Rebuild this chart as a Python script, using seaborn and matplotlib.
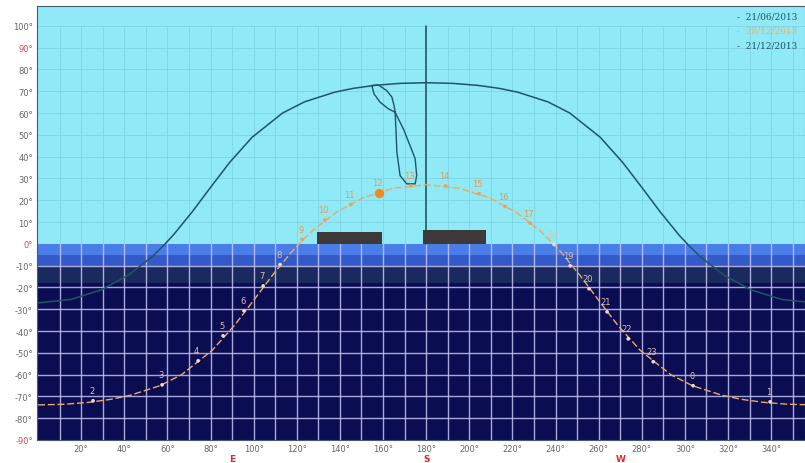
import numpy as np
import pandas as pd
import matplotlib
matplotlib.use("Agg")
import matplotlib.pyplot as plt
import matplotlib.transforms as mtransforms
import seaborn as sns

# ---------------- data ----------------
summer_az = [0, 15.2, 29.4, 42.0, 53.0, 58.0, 62.7, 71.5, 80.0, 88.9, 99.3, 113.4, 123.5, 137.3,
             146.0, 156.2, 167.7, 180, 192.3, 203.8, 214.0, 222.7, 236.5, 246.6, 260.7, 271.1,
             280.0, 288.5, 297.3, 302.0, 307.0, 318.0, 330.6, 344.8, 360]
summer_el = [-27.1, -25.5, -21.1, -14.3, -5.8, -1.0, 4.0, 14.7, 25.9, 37.4, 48.9, 60.0, 65.1, 69.5,
             71.3, 72.7, 73.6, 73.9, 73.6, 72.7, 71.3, 69.5, 65.1, 60.0, 48.9, 37.4,
             25.9, 14.7, 4.0, -1.0, -5.8, -14.3, -21.1, -25.5, -27.1]

winter_az = [0, 12.3, 23.8, 34.0, 42.7, 56.5, 66.6, 80.7, 91.1, 100.0, 108.5, 117.3, 122.0, 127.0,
             138.0, 150.6, 164.8, 180, 195.2, 209.4, 222.0, 233.0, 238.0, 242.7, 251.5, 260.0,
             268.9, 279.3, 293.4, 303.5, 317.3, 326.0, 336.2, 347.7, 360]
winter_el = [-73.9, -73.6, -72.7, -71.3, -69.5, -65.1, -60.0, -48.9, -37.4, -25.9, -14.7, -4.0, 1.0, 5.8,
             14.3, 21.1, 25.5, 27.1, 25.5, 21.1, 14.3, 5.8, 1.0, -4.0, -14.7, -25.9,
             -37.4, -48.9, -60.0, -65.1, -69.5, -71.3, -72.7, -73.6, -73.9]

hour_labels = ['1', '2', '3', '4', '5', '6', '7', '8', '9', '10', '11', '12',
               '13', '14', '15', '16', '17', '18', '19', '20', '21', '22', '23', '0']
hour_az = [339.5, 25.5, 57.5, 74.2, 85.8, 95.5, 104.4, 112.2, 122.5, 133.0, 145.0, 158.0,
           173.0, 189.0, 204.5, 216.6, 228.2, 239.3, 246.8, 255.5, 263.9, 273.7, 285.3, 303.8]
hour_el = [-72.5, -72.0, -64.7, -53.7, -42.2, -30.7, -19.3, -9.5, 2.0, 11.0, 18.0, 23.5,
           26.6, 26.6, 23.0, 17.2, 9.5, -0.3, -10.1, -20.6, -31.2, -43.6, -54.1, -65.1]

current_az = [158.0]
current_el = [23.5]

analemma_az = [154.8, 155.8, 158.6, 162.5, 165.6, 167.1, 169.4, 172.5, 174.9, 175.6, 174.9, 171.0,
               167.9, 166.4, 166.0, 165.6, 165.1, 164.1, 161.7, 157.8, 154.8]
analemma_el = [72.6, 68.8, 65.0, 61.9, 60.4, 57.3, 52.8, 45.1, 39.0, 31.3, 27.5, 27.5,
               31.3, 42.1, 52.0, 60.4, 63.4, 67.3, 70.3, 72.9, 72.6]

obstacle_az_start = [129.4, 178.5]
obstacle_az_end = [159.6, 207.7]
obstacle_height = [5.5, 6.4]

twilight_levels = [0, -5, -10, -18, -90]
twilight_colors = ['#4b7de9', '#3459c8', '#1a2a5e', '#0b0d52']

x_ticks = list(range(20, 341, 20))
y_ticks = list(range(-90, 101, 10))
y_red = [90, 0, -90]
cardinal_labels = ['E', 'S', 'W']
cardinal_az = [90, 180, 270]

legend_labels = ['21/06/2013', '28/12/2013', '21/12/2013']
legend_colors = ['#1f5566', '#f0b060', '#1f5566']

# ---------------- figure ----------------
sns.set_style("white")
plt.rcParams['font.family'] = ['DejaVu Sans']

fig = plt.figure(figsize=(8.05, 4.64), dpi=100)
ax = fig.add_axes([37 / 805, 23 / 464, 768 / 805, 434 / 464])
ax.set_xlim(-0.5, 355.7)
ax.set_ylim(-90, 109.1)

# sky / twilight backgrounds
ax.axhspan(0, 120, color='#8fe9f7', zorder=0, lw=0)
for i in range(len(twilight_colors)):
    ax.axhspan(twilight_levels[i + 1], twilight_levels[i], color=twilight_colors[i], zorder=0, lw=0)

# grids
for a in range(10, 360, 10):
    ax.plot([a, a], [0, 100], color='#82d8e8', lw=0.7, zorder=1)
    ax.plot([a, a], [-90, 0], color='#c4c4f2', lw=1.0, alpha=0.85, zorder=1)
for e in range(10, 101, 10):
    ax.axhline(e, color='#82d8e8', lw=0.7, zorder=1)
for e in range(-80, 0, 10):
    ax.axhline(e, color='#c4c4f2', lw=1.0, alpha=0.85, zorder=1)

# south line
ax.plot([180, 180], [0, 100], color='#1d4a58', lw=1.1, zorder=3)

# obstacles
for s, e_, h in zip(obstacle_az_start, obstacle_az_end, obstacle_height):
    ax.fill_between([s, e_], 0, h, color='#3e3a3a', zorder=3, lw=0)

# summer curve
sns.lineplot(x=summer_az, y=summer_el, sort=False, estimator=None, ax=ax,
             color='#1f5566', lw=1.1, zorder=4, legend=False)

# analemma
sns.lineplot(x=analemma_az, y=analemma_el, sort=False, estimator=None, ax=ax,
             color='#1f5566', lw=1.0, zorder=4, legend=False)

# winter curve
sns.lineplot(x=winter_az, y=winter_el, sort=False, estimator=None, ax=ax,
             color='#f0a85e', lw=1.0, zorder=4, legend=False)
ax.lines[-1].set_linestyle((0, (5, 2)))

# hour markers and labels
hdf = pd.DataFrame({'az': hour_az, 'el': hour_el, 'lab': hour_labels})
hdf['above'] = hdf['el'] > 0
sns.scatterplot(data=hdf, x='az', y='el', hue='above',
                palette={True: '#f2a050', False: '#eadbd0'}, s=7, linewidth=0,
                ax=ax, zorder=5, legend=False)
for _, r in hdf.iterrows():
    col = '#e99a48' if r['el'] > 0 else '#dcc2b0'
    ax.annotate(r['lab'], (r['az'], r['el']), xytext=(-1, 4), textcoords='offset points',
                ha='center', va='bottom', fontsize=6, color=col, zorder=6)

sns.scatterplot(x=current_az, y=current_el, color='#f08a1a', s=45, linewidth=0,
                ax=ax, zorder=6, legend=False)

# ticks
ax.set_xticks(x_ticks)
ax.set_xticklabels([f'{v}°' for v in x_ticks], fontsize=6, color='#666666')
ax.set_yticks(y_ticks)
ax.set_yticklabels([f'{v}°' for v in y_ticks], fontsize=6)
for t, v in zip(ax.get_yticklabels(), y_ticks):
    t.set_color('#e04848' if v in y_red else '#666666')
ax.tick_params(axis='x', length=0, pad=3)
ax.tick_params(axis='y', length=0, pad=3)
ax.set_xlabel('')
ax.set_ylabel('')

trans = mtransforms.blended_transform_factory(ax.transData, ax.transAxes)
for lab, a in zip(cardinal_labels, cardinal_az):
    ax.text(a, -0.043, lab, transform=trans, ha='center', va='center', fontsize=6.5,
            color='#dd2a2a', fontweight='bold')

for sp in ax.spines.values():
    sp.set_color('#4a5a66')
    sp.set_linewidth(0.8)

# legend texts (top-right, cropped)
for i, (lab, col) in enumerate(zip(legend_labels, legend_colors)):
    fig.text(737 / 805, 1 - (17 + 14.5 * i) / 464, '-  ' + lab, fontsize=6.5, color=col,
             ha='left', va='center', family='DejaVu Serif')

fig.savefig('out.png', dpi=100)
